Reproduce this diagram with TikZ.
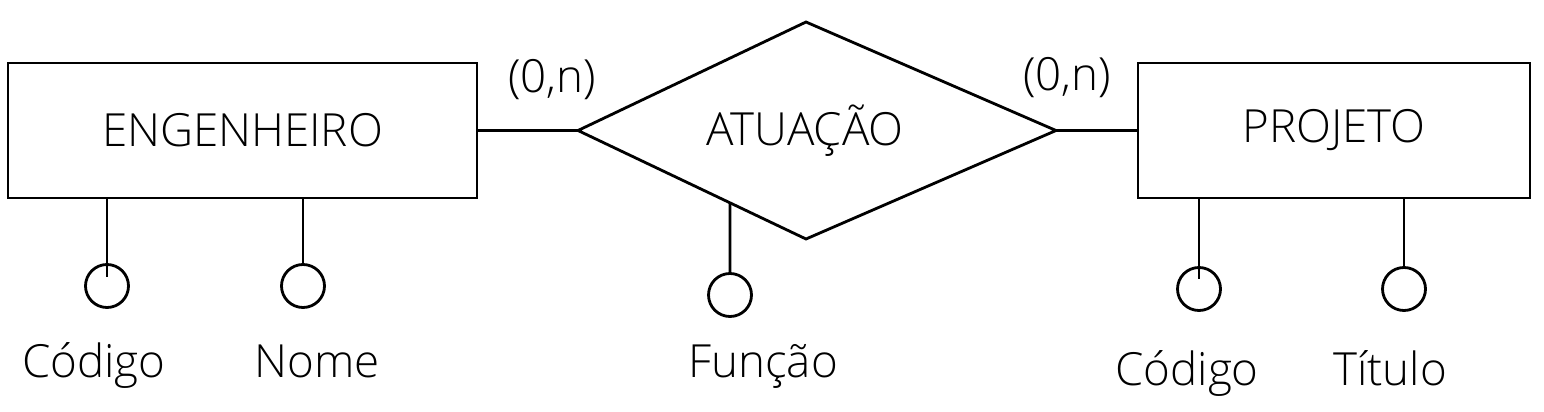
\documentclass[tikz,border=0pt]{standalone}
\usepackage{fontspec}
\setmainfont{Open Sans}[UprightFont=* Light]
\usetikzlibrary{calc}
\begin{document}
\begin{tikzpicture}[x=0.02cm,y=-0.02cm, line width=1.6pt,
  txt/.style={font=\fontsize{26}{30}\selectfont},
  entity/.style={draw, rectangle, minimum height=2.7cm, inner sep=0pt, txt},
  attr/.style={draw, circle, minimum size=0.86cm, inner sep=0pt},
  lbl/.style={txt, anchor=base, inner sep=0pt},
  card/.style={txt, inner sep=0pt}]
\useasboundingbox (0,0) rectangle (1544,412);
% entities
\node[entity, minimum width=9.38cm] (eng) at (242.5,130.5) {ENGENHEIRO\hspace{0.4cm}};
\node[entity, minimum width=7.84cm] (proj) at (1334,130.5) {PROJETO};
% relationship
\coordinate (dl) at (578,130.5);
\coordinate (dt) at (806,22);
\coordinate (dr) at (1056,130.5);
\coordinate (db) at (806,239);
\draw (dl) -- (dt) -- (dr) -- (db) -- cycle;
\node[txt] (rel) at (805,131) {ATUAÇÃO};
\draw (eng.east) -- (dl);
\draw (dr) -- (proj.west);
% cardinalities
\node[card] (c1) at (552,80) {(0,n)};
\node[card] (c2) at (1067,78) {(0,n)};
% attributes
\node[attr] (a1) at (107,286) {};
\node[attr] (a2) at (303,286) {};
\node[attr] (a3) at (730,295) {};
\node[attr] (a4) at (1199,289) {};
\node[attr] (a5) at (1404,289) {};
\coordinate (dfe) at ($(dl)!0.6667!(db)$);
\draw (eng.south -| a1) -- ([yshift=0.18cm]a1.center);
\draw (eng.south -| a2) -- (a2.north);
\draw (dfe) -- (a3.north);
\draw (proj.south -| a4) -- ([yshift=0.2cm]a4.center);
\draw (proj.south -| a5) -- (a5.north);
% labels
\node[lbl] (l1) at (94,377) {Código};
\node[lbl] (l2) at (317,377) {Nome};
\node[lbl] (l3) at (763,377) {Função};
\node[lbl] (l4) at (1187,385) {Código};
\node[lbl] (l5) at (1390,385) {Título};
\end{tikzpicture}
\end{document}
